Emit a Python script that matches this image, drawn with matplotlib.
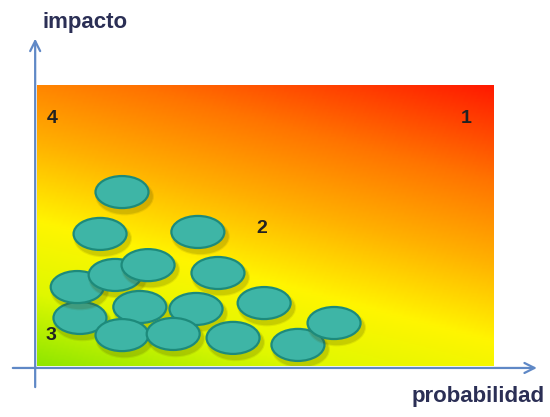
import numpy as np
import matplotlib
matplotlib.use('Agg')
from matplotlib import pyplot as plt
from matplotlib.patches import Ellipse
from matplotlib.colors import LinearSegmentedColormap

# risk items: (probabilidad, impacto), both on a 0..1 scale
prob = [0.186, 0.138, 0.352, 0.094, 0.088, 0.171, 0.243, 0.396,
        0.225, 0.348, 0.497, 0.186, 0.298, 0.429, 0.571, 0.650]
impact = [0.619, 0.470, 0.477, 0.171, 0.281, 0.324, 0.359, 0.331,
          0.210, 0.203, 0.224, 0.110, 0.114, 0.100, 0.075, 0.153]

# quadrant labels
quad_labels = ['4', '1', '2', '3']
quad_x = [0.033, 0.939, 0.492, 0.031]
quad_y = [0.881, 0.881, 0.488, 0.110]

axis_color = '#5f88c6'
text_color = '#2b2f55'

heat = LinearSegmentedColormap.from_list('risk', [
    (0.0, '#8fe600'),
    (0.18, '#e0f800'),
    (0.36, '#fff500'),
    (0.56, '#ffb000'),
    (0.76, '#ff7400'),
    (1.0, '#ff1a00'),
])

fig = plt.figure(figsize=(5.5, 4.17), dpi=100)
ax = fig.add_axes([37 / 550, 51 / 417, 457 / 550, 281 / 417])
ax.set_xlim(0, 1)
ax.set_ylim(0, 1)
ax.axis('off')

#--background heat map-------------------------------------------
u, v = np.meshgrid(np.linspace(0, 1, 300), np.linspace(0, 1, 200))
risk = 0.7 * v + 0.3 * u
ax.imshow(risk, cmap=heat, extent=(0, 1, 0, 1), origin='lower',
          aspect='auto', vmin=0, vmax=1, zorder=0)

#--risk ellipses---------------------------------------------------
w, h = 0.116, 0.114
for i, (x, y) in enumerate(zip(prob, impact)):
    z = 2 + i * 0.01
    for k, a in [(1.0, 0.10), (0.6, 0.15)]:
        sh = Ellipse((x + 0.006, y - 0.016), w + 0.012 * k, h + 0.02 * k,
                     facecolor='#4a4a00', edgecolor='none', alpha=a, zorder=z)
        ax.add_patch(sh)
    e = Ellipse((x, y), w, h, facecolor='#3eb5a6', edgecolor='#1d8a7b',
                linewidth=1.6, zorder=z + 0.005)
    ax.add_patch(e)

for lab, x, y in zip(quad_labels, quad_x, quad_y):
    ax.text(x, y, lab, fontsize=14, fontweight='bold', color='#222222',
            ha='center', va='center', family='Liberation Sans', zorder=5)

#--axes arrows-------------------------------------------------------
ax.annotate('', xy=(-0.004, 1.175), xytext=(-0.004, -0.085),
            arrowprops=dict(arrowstyle='->', color=axis_color, lw=1.6,
                            mutation_scale=18), annotation_clip=False)
ax.annotate('', xy=(1.1, -0.007), xytext=(-0.059, -0.007),
            arrowprops=dict(arrowstyle='->', color=axis_color, lw=1.6,
                            mutation_scale=18), annotation_clip=False)

ax.text(0.013, 1.224, 'impacto', fontsize=16, fontweight='bold', color=text_color,
        ha='left', va='center', family='Liberation Sans', clip_on=False)
ax.text(1.112, -0.11, 'probabilidad', fontsize=16, fontweight='bold', color=text_color,
        ha='right', va='center', family='Liberation Sans', clip_on=False)

fig.savefig('out.png', dpi=100)
